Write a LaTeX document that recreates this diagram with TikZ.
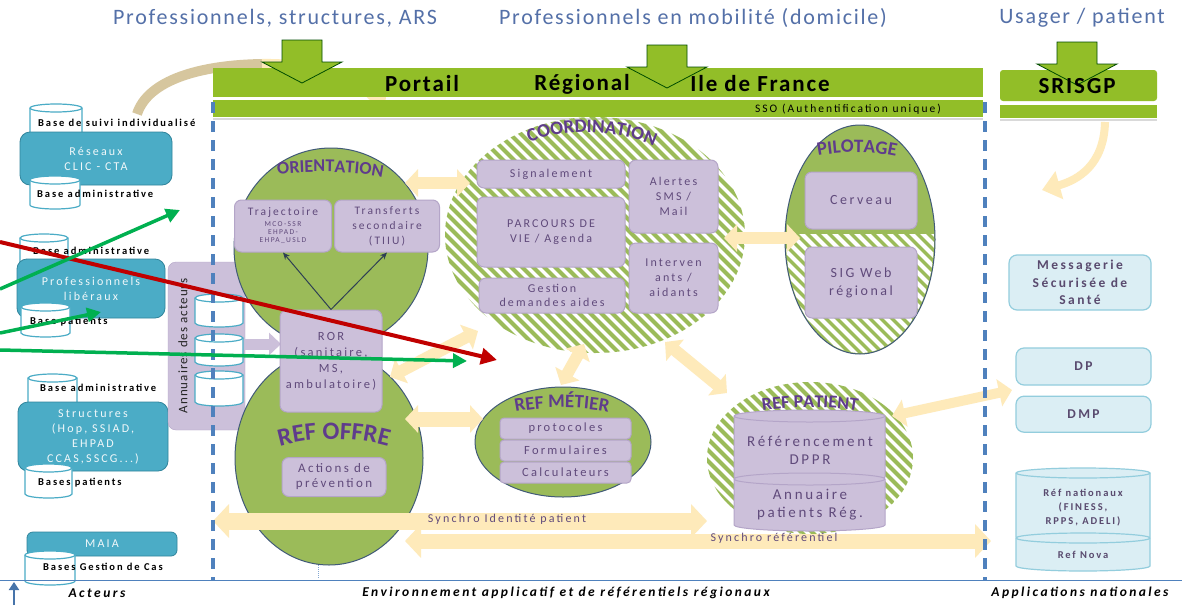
\documentclass[tikz,border=0pt]{standalone}
\usepackage{fontspec}
\setmainfont{Carlito}[LetterSpace=8]
\newfontfamily\widefont{Carlito}[LetterSpace=18]
\newfontfamily\plainfont{Carlito}
\usetikzlibrary{positioning,shapes.geometric,arrows.meta,decorations.text}
\definecolor{portgreen}{RGB}{146,190,40}
\definecolor{ovalgreen}{RGB}{155,187,89}
\definecolor{ovalline}{RGB}{65,90,120}
\definecolor{lilac}{RGB}{204,192,218}
\definecolor{lilacline}{RGB}{180,165,200}
\definecolor{lilactext}{RGB}{96,74,123}
\definecolor{tealbox}{RGB}{75,172,198}
\definecolor{tealline}{RGB}{49,133,156}
\definecolor{skyfill}{RGB}{219,238,244}
\definecolor{skyline}{RGB}{147,205,221}
\definecolor{skytext}{RGB}{89,74,110}
\definecolor{cream}{RGB}{254,234,186}
\definecolor{tanarc}{RGB}{214,198,158}
\definecolor{dashblue}{RGB}{79,129,189}
\definecolor{headblue}{RGB}{84,112,168}
\definecolor{labpurple}{RGB}{95,60,140}
\definecolor{redarrow}{RGB}{192,0,0}
\definecolor{greenarrow}{RGB}{0,176,80}
\newcommand{\ovaltitle}{\plainfont\bfseries\color{labpurple}}
\newcommand{\subline}[1]{{\fontsize{7.5}{8}\selectfont #1}}
%% cylinder: [rim] x1, top, x2, bottom, style
\newcommand{\basecyl}[6][4]{%
	\pgfmathsetmacro\cylrx{(#4-#2)/2}%
	\draw[#6] (#2,#3) -- (#2,#5) arc[start angle=180,end angle=360,x radius=\cylrx,y radius=#1]
		-- (#4,#3) arc[start angle=0,end angle=180,x radius=\cylrx,y radius=#1] -- cycle;
	\draw[#6,fill=none] (#2,#3) arc[start angle=180,end angle=360,x radius=\cylrx,y radius=#1];}
%% green block arrow pointing down: centre x, top y
\newcommand{\feedarrow}[2]{%
	\draw[feed] (#1-20,#2) -- (#1+20,#2) -- (#1+20,#2-22) -- (#1+40,#2-22)
		-- (#1,#2-43) -- (#1-40,#2-22) -- (#1-20,#2-22) -- cycle;}
\begin{document}
\begin{tikzpicture}[x=1pt,y=1pt,
	feed/.style={fill=portgreen, draw=black!70!green, line width=0.8pt},
	headtext/.style={inner sep=0pt, text=headblue, font=\fontsize{22}{24}\selectfont},
	bartext/.style={inner sep=0pt, font=\bfseries\fontsize{23}{24}\selectfont},
	ssotext/.style={inner sep=0pt, font=\widefont\fontsize{11.5}{12}\selectfont},
	baselab/.style={anchor=west, inner sep=0pt, font=\widefont\bfseries\fontsize{10.5}{11}\selectfont},
	tbox/.style={draw=tealline, fill=tealbox, line width=0.8pt, rounded corners=10pt, text=white!92!tealbox,
		align=center, inner sep=1pt, font=\widefont\fontsize{12}{15}\selectfont},
	abox/.style={draw=lilacline, fill=lilac, rounded corners=8pt},
	pbox/.style={draw=lilacline, fill=lilac, line width=1pt, rounded corners=7pt, text=lilactext,
		align=center, inner sep=1pt, font=\widefont\fontsize{12}{15}\selectfont},
	mbox/.style={pbox, rounded corners=4pt, minimum width=131, minimum height=21, font=\widefont\fontsize{12.5}{13}\selectfont},
	sbox/.style={draw=skyline, fill=skyfill, line width=1.2pt, rounded corners=8pt, text=skytext,
		align=center, inner sep=1pt, font=\widefont\bfseries\fontsize{13.5}{17.5}\selectfont},
	skysmall/.style={text=skytext, align=center, inner sep=0pt, font=\widefont\bfseries\fontsize{10.5}{14}\selectfont},
	cyltext/.style={text=lilactext, align=center, inner sep=0pt, font=\widefont\fontsize{15}{18}\selectfont},
	synctext/.style={text=lilactext, inner sep=0pt, font=\widefont\fontsize{12}{12}\selectfont},
	footlab/.style={inner sep=0pt, font=\widefont\bfseries\itshape\fontsize{13.5}{14}\selectfont},
	oval/.style={ellipse, draw=ovalline, fill=ovalgreen, line width=1pt, inner sep=0pt},
	basedrum/.style={draw=tealbox, fill=white, line width=1.2pt},
	lilacdrum/.style={draw=lilacline, fill=lilac, line width=1pt},
	skydrum/.style={draw=skyline, fill=skyfill, line width=1.2pt},
	hatch/.style={ovalgreen, line width=4pt},
	whitehatch/.style={white, line width=4pt},
	thinarrow/.style={draw=ovalline!70!black, line width=1pt, -{Stealth[length=7pt,width=6pt]}},
	creamway/.style={cream, line width=12pt, {Triangle[length=13pt,width=27pt]}-{Triangle[length=13pt,width=27pt]}},
	synchroway/.style={cream, line width=17pt, {Triangle[length=16pt,width=33pt]}-{Triangle[length=16pt,width=33pt]}},
	dashline/.style={dashblue, line width=3.5pt, dash pattern=on 11pt off 8pt},
	redline/.style={redarrow, line width=4pt, -{Triangle[length=16pt,width=16pt]}},
	greenline/.style={greenarrow, line width=3.5pt, -{Triangle[length=14pt,width=14pt]}}]
\useasboundingbox (0,0) rectangle (1182,-605);
\fill[white] (0,0) rectangle (1182,-605);
%% Curved arrow towards the portal
\draw[tanarc, line width=10pt] (137,-114) .. controls (148,-80) and (200,-65) .. (262,-64);
\draw[cream, line width=10pt, -{Triangle[length=13pt,width=24pt]}] (262,-64) .. controls (320,-63) and (360,-80) .. (385,-110);
%% Portail bar
\fill[portgreen] (213,-68) rectangle (983,-97);
\fill[portgreen] (213,-100) rectangle (983,-117);
\draw[black!15, line width=2pt] (213,-119) -- (983,-119);
%% SRISGP bar
\fill[portgreen, rounded corners=3pt] (1000,-70) rectangle (1157,-101);
\fill[portgreen] (1000,-105) rectangle (1157,-118);
\draw[black!15, line width=2pt] (1000,-120) -- (1157,-120);
\draw[cream, line width=8pt, -{Triangle[length=18pt,width=28pt]}] (1105,-122) .. controls (1104,-165) and (1078,-180) .. (1042,-190);
%
\feedarrow{302}{-40}
\feedarrow{667}{-45}
\feedarrow{1077}{-42}
%
\node[bartext] (portail) at (422,-84) {Portail};
\node[bartext] (regional) at (582,-84) {Régional};
\node[bartext] (idf) at (760,-84) {Ile de France};
\node[bartext] (srisgp) at (1077,-86) {SRISGP};
\node[ssotext] (sso) at (848,-109) {SSO (Authentification unique)};
%% Headers
\node[headtext] (hpro) at (275,-18) {Professionnels, structures, ARS};
\node[headtext] (hmob) at (693,-18) {Professionnels en mobilité (domicile)};
\node[headtext] (husa) at (1082,-18) {Usager / patient};
%%%%%%%%%%%%%%
%% Acteurs %%
%%%%%%%%%%%%%%
\basecyl{30}{-108}{82}{-138}{basedrum}
\node[tbox, minimum width=152, minimum height=53] (reseaux) at (96,-158.5) {Réseaux\\CLIC - CTA};
\basecyl{30}{-180}{80}{-205}{basedrum}
\node[baselab] (bsuivi) at (38,-123) {Base de suivi individualisé};
\node[baselab] (badm1) at (37,-194) {Base administrative};
%
\basecyl{20}{-238}{68}{-264}{basedrum}
\node[tbox, minimum width=148, minimum height=59] (prolib) at (91,-288.5) {Professionnels\\libéraux};
\basecyl{21}{-307}{70}{-333}{basedrum}
\node[baselab] (badm2) at (33,-251) {Base administrative};
\node[baselab] (bpat2) at (30,-322) {Base patients};
%
\basecyl{28}{-378}{77}{-404}{basedrum}
\node[tbox, minimum width=150, minimum height=69] (struct) at (93,-436.5) {Structures\\(Hop, SSIAD,\\EHPAD\\CCAS,SSCG...)};
\basecyl{25}{-468}{72}{-494}{basedrum}
\node[baselab] (badm3) at (40,-388) {Base administrative};
\node[baselab] (bpat3) at (38,-483) {Bases patients};
%
\node[tbox, rounded corners=6pt, minimum width=150, minimum height=24] (maia) at (102,-544) {MAIA};
\basecyl{25}{-555}{75}{-581}{basedrum}
\node[baselab] (bgest) at (43,-567) {Bases Gestion de Cas};
%% Annuaires
\node[abox, minimum width=77, minimum height=168] (annuaires) at (206.5,-346) {};
\node[rotate=90, inner sep=0pt, text=black!85, font=\fontsize{13}{14}\selectfont] (annutxt) at (183,-346) {Annuaires des acteurs};
\basecyl{195}{-298}{243}{-323}{basedrum}
\basecyl{195}{-338}{243}{-362}{basedrum}
\basecyl{195}{-375}{243}{-402}{basedrum}
\coordinate (annuout) at (245,-344);
\coordinate (rorin) at (281,-344);
\draw[lilac, line width=11pt, -{Triangle[length=12pt,width=22pt]}] (annuout) -- (rorin);
%%%%%%%%%%%%%%%%
%% Orientation / Ref offre %%
%%%%%%%%%%%%%%%%
\node[oval, minimum width=194, minimum height=200] (orient) at (331,-248) {};
\node[oval, minimum width=188, minimum height=214] (offre) at (329,-458) {};
\path[decorate, decoration={text along path, text align=center,
	text={|\ovaltitle\fontsize{18}{18}\selectfont|ORIENTATION}}]
	(266,-176) .. controls (300,-170) and (360,-170) .. (394,-180);
\path[decorate, decoration={text along path, text align=center,
	text={|\ovaltitle\fontsize{25}{25}\selectfont|REF OFFRE}}]
	(266,-451) .. controls (305,-435) and (360,-435) .. (402,-451);
\node[pbox, minimum width=97, minimum height=52, font=\widefont\fontsize{11.5}{13}\selectfont] (traj) at (283,-226)
	{Trajectoire\\[-2pt]\subline{MCO-SSR}\\[-5pt]\subline{EHPAD-}\\[-5pt]\subline{EHPA\_USLD}};
\node[pbox, minimum width=105, minimum height=52, font=\widefont\fontsize{11.5}{15}\selectfont] (transf) at (387,-226)
	{Transferts\\secondaire\\(TIIU)};
\node[pbox, minimum width=102, minimum height=102, font=\widefont\fontsize{12.5}{16}\selectfont] (ror) at (331,-361)
	{ROR\\(sanitaire,\\MS,\\ambulatoire)};
\draw[thinarrow] (ror.north) -- (traj.south);
\draw[thinarrow] (ror.north) -- (transf.south);
\node[pbox, minimum width=104, minimum height=39, font=\widefont\fontsize{13}{15}\selectfont] (prev) at (334,-477)
	{Actions de\\prévention};
%%%%%%%%%%%%%%
%% Coordination %%
%%%%%%%%%%%%%%
\begin{scope}
	\clip (595,-235) ellipse [x radius=150, y radius=118];
	\foreach \k in {0,...,50}
		{\draw[hatch] (195+11*\k,-105) -- ++(250,-250);}
\end{scope}
\path[decorate, decoration={text along path, text align=center,
	text={|\ovaltitle\fontsize{19}{19}\selectfont|COORDINATION}}]
	(513,-151) .. controls (548,-127) and (625,-124) .. (670,-155);
\node[pbox, minimum width=148, minimum height=28] (signal) at (551,-174) {Signalement};
\node[pbox, minimum width=148, minimum height=70] (parcours) at (551,-232) {PARCOURS DE\\VIE / Agenda};
\node[pbox, minimum width=146, minimum height=35, font=\widefont\fontsize{12}{14}\selectfont] (gestion) at (552,-295.5) {Gestion\\demandes aides};
\node[pbox, minimum width=89, minimum height=73] (alertes) at (673.5,-196.5) {Alertes\\SMS /\\Mail};
\node[pbox, minimum width=89, minimum height=70] (interv) at (673.5,-278) {Interven\\ants /\\aidants};
%%%%%%%%%%%%%%
%% Pilotage %%
%%%%%%%%%%%%%%
\node[oval, minimum width=150, minimum height=229] (pilot) at (860,-239.5) {};
\begin{scope}
	\clip (860,-239.5) ellipse [x radius=74, y radius=113.5];
	\clip (780,-234) rectangle (940,-360);
	\foreach \k in {0,...,26}
		{\draw[whitehatch] (655+11*\k,-230) -- ++(130,-130);}
\end{scope}
\path[decorate, decoration={text along path, text align=center,
	text={|\ovaltitle\fontsize{19}{19}\selectfont|PILOTAGE}}]
	(806,-159) .. controls (835,-150) and (880,-150) .. (908,-160);
\node[pbox, minimum width=112, minimum height=57, font=\widefont\fontsize{14}{16}\selectfont] (cerveau) at (861,-200.5) {Cerveau};
\node[pbox, minimum width=112, minimum height=71, font=\widefont\fontsize{14}{18}\selectfont] (sig) at (861,-282.5) {SIG Web\\régional};
%%%%%%%%%%%%%%
%% Ref metier %%
%%%%%%%%%%%%%%
\node[oval, minimum width=176, minimum height=110] (metier) at (563,-442) {};
\path[decorate, decoration={text along path, text align=center,
	text={|\ovaltitle\fontsize{19}{19}\selectfont|REF MÉTIER}}]
	(500,-416) .. controls (535,-405) and (590,-405) .. (624,-416);
\node[mbox] (proto) at (565.5,-428.5) {protocoles};
\node[mbox, below=0pt of proto] (formu) {Formulaires};
\node[mbox, below=0pt of formu] (calc) {Calculateurs};
%%%%%%%%%%%%%%
%% Ref patient %%
%%%%%%%%%%%%%%
\begin{scope}
	\clip (810,-458) ellipse [x radius=103, y radius=76];
	\foreach \k in {0,...,33}
		{\draw[hatch] (550+11*\k,-380) -- ++(160,-160);}
\end{scope}
\path[decorate, decoration={text along path, text align=center,
	text={|\ovaltitle\fontsize{18}{18}\selectfont|REF PATIENT}}]
	(744,-414) .. controls (780,-405) and (840,-405) .. (876,-415);
\basecyl[6]{734}{-416}{885}{-477}{lilacdrum}
\node[cyltext] (dppr) at (810,-450) {Référencement\\DPPR};
\basecyl[6]{734}{-479}{885}{-525}{lilacdrum}
\node[cyltext] (annupat) at (810,-505) {Annuaire\\patients Rég.};
%%%%%%%%%%%%%%
%% Applications nationales %%
%%%%%%%%%%%%%%
\node[sbox, minimum width=142, minimum height=55] (mss) at (1080,-282.5) {Messagerie\\Sécurisée de\\Santé};
\node[sbox, minimum width=135, minimum height=37] (dp) at (1083.5,-366.5) {DP};
\node[sbox, minimum width=135, minimum height=36, below=10 of dp] (dmp) {DMP};
\basecyl[5]{1016}{-473}{1150}{-537}{skydrum}
\node[skysmall] (refnat) at (1083,-508) {Réf nationaux\\(FINESS,\\RPPS, ADELI)};
\basecyl[5]{1016}{-538}{1150}{-566}{skydrum}
\node[skysmall] (nova) at (1083,-555) {Ref Nova};
%% Exchanges
\coordinate (orientout) at (405,-183);
\coordinate (coordin) at (470,-183);
\draw[creamway] (orientout) -- (coordin);
\coordinate (rorout) at (390,-377);
\coordinate (coordlow) at (478,-331);
\draw[creamway] (rorout) -- (coordlow);
\coordinate (offreout) at (405,-419);
\coordinate (metierin) at (483,-419);
\draw[creamway, line width=15pt] (offreout) -- (metierin);
\coordinate (metierup) at (561,-385);
\coordinate (coordbot) at (584,-344);
\draw[creamway] (metierup) -- (coordbot);
\coordinate (coordse) at (665,-342);
\coordinate (patientnw) at (727,-393);
\draw[creamway] (coordse) -- (patientnw);
\coordinate (coordeast) at (724,-238);
\coordinate (pilotwest) at (800,-238);
\draw[creamway] (coordeast) -- (pilotwest);
\coordinate (patientne) at (892,-416);
\coordinate (dpwest) at (1012,-390);
\draw[creamway, line width=10pt] (patientne) -- (dpwest);
%% Synchro
\coordinate (sidleft) at (213,-521);
\coordinate (sidright) at (707,-521);
\draw[synchroway] (sidleft) -- (sidright);
\node[synctext] (sidtxt) at (507,-519) {Synchro Identité patient};
\coordinate (srefleft) at (405,-541);
\coordinate (srefright) at (991,-541);
\draw[synchroway, line width=15pt] (srefleft) -- (srefright);
\node[synctext] (sreftxt) at (774,-538) {Synchro référentiel};
%% Zone limits
\draw[dashline] (213,-102) -- (213,-580);
\draw[dashline] (985,-102) -- (985,-580);
\draw[dashblue!70, line width=1pt, densely dotted] (318,-565) -- (318,-578);
%% Pointers
\coordinate (r0) at (0,-242);
\coordinate (r1) at (497,-360);
\draw[redline] (r0) -- (r1);
\coordinate (g10) at (0,-289);
\coordinate (g11) at (180,-210);
\draw[greenline] (g10) -- (g11);
\coordinate (g20) at (0,-333);
\coordinate (g21) at (101,-312);
\draw[greenline] (g20) -- (g21);
\coordinate (g30) at (0,-350);
\coordinate (g31) at (467,-361);
\draw[greenline] (g30) -- (g31);
%% Footer
\draw[dashblue, line width=1pt] (0,-580) -- (1182,-580);
\coordinate (up0) at (14,-605);
\coordinate (up1) at (14,-582);
\draw[dashblue!90!black, line width=2.5pt, -{Triangle[length=8pt,width=10pt]}] (up0) -- (up1);
\node[footlab] (acteurs) at (97,-593) {Acteurs};
\node[footlab] (envlab) at (566,-593) {Environnement applicatif et de référentiels régionaux};
\node[footlab] (applab) at (1080,-593) {Applications nationales};
\end{tikzpicture}
\end{document}
